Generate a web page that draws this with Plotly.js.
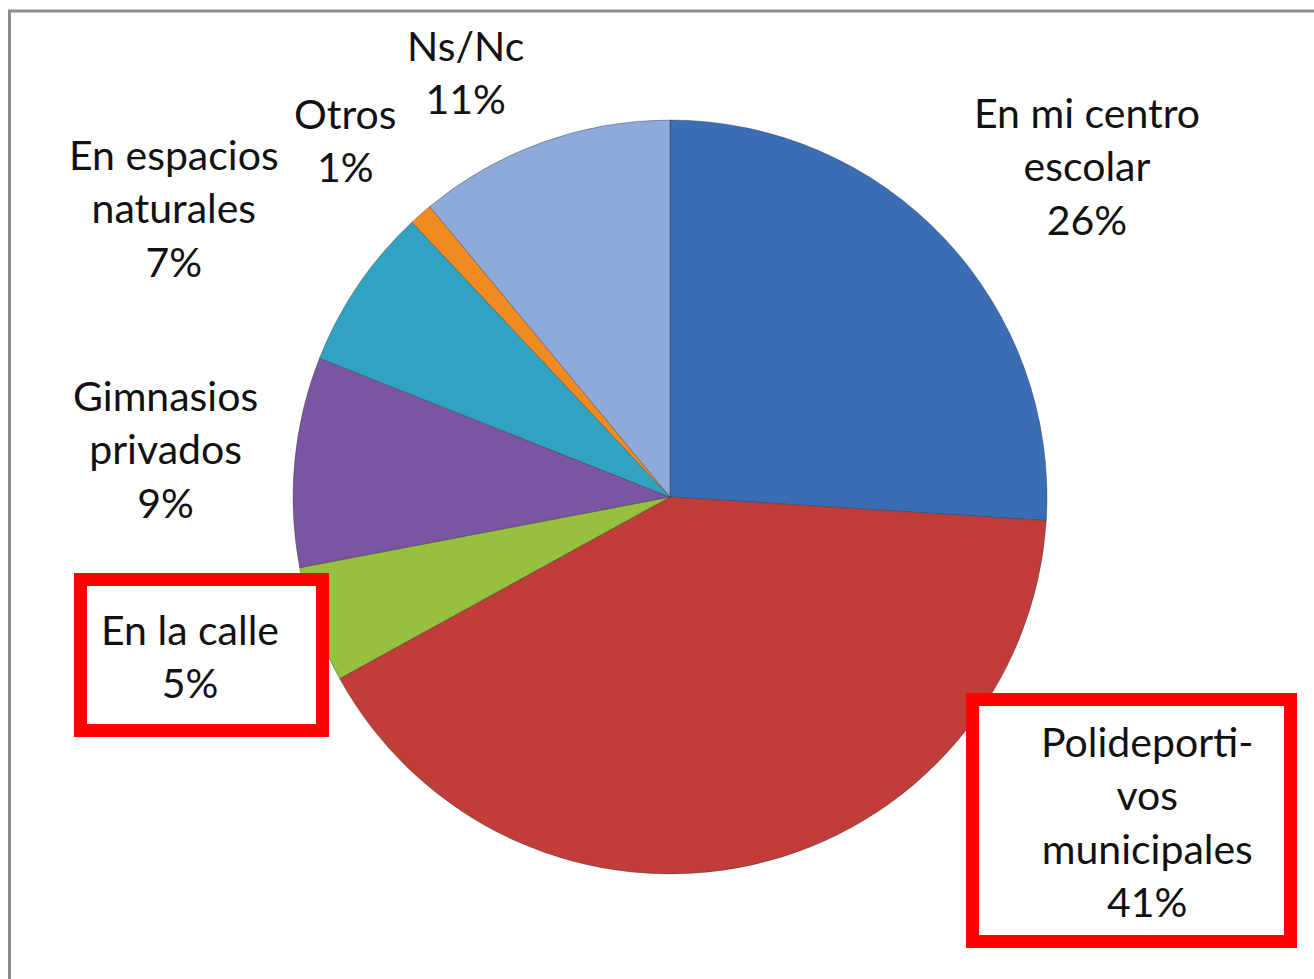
<!DOCTYPE html>
<html>
<head>
<meta charset="utf-8">
<script src="https://cdn.plot.ly/plotly-3.0.1.min.js"></script>
<style>
html,body{margin:0;padding:0;background:#fff;}
#chart{width:1314px;height:979px;}
</style>
</head>
<body>
<div id="chart"></div>
<script>
// Data (clockwise from 12 o'clock)
var categories = [
  "En mi centro<br>escolar",
  "Polideporti-<br>vos<br>municipales",
  "En la calle",
  "Gimnasios<br>privados",
  "En espacios<br>naturales",
  "Otros",
  "Ns/Nc"
];
var percentages = [26, 41, 5, 9, 7, 1, 11];
var sliceColors = ["#3a6db4", "#c13d39", "#96c03d", "#7b54a2", "#31a2c2", "#f28a22", "#8daada"];

// Label placement (pixel centres) — styling/layout only
var labelPos = [
  [1087, 166],
  [1147, 821],
  [190, 656],
  [165, 449],
  [174, 208],
  [345, 140],
  [465, 72]
];

var W = 1314, H = 979;
function px(x){ return x / W; }
function py(y){ return 1 - y / H; }

var trace = {
  type: "pie",
  labels: categories,
  values: percentages,
  sort: false,
  direction: "clockwise",
  rotation: 0,
  textinfo: "none",
  hoverinfo: "label+percent",
  marker: {colors: sliceColors, line: {color: "rgba(40,40,40,0.35)", width: 1}},
  domain: {x: [px(293), px(1047)], y: [py(874), py(120)]},
  showlegend: false
};

var annotations = categories.map(function(c, i){
  return {
    xref: "paper", yref: "paper",
    x: px(labelPos[i][0]), y: py(labelPos[i][1]),
    xanchor: "center", yanchor: "middle",
    align: "center",
    showarrow: false,
    text: c + "<br>" + percentages[i] + "%",
    font: {family: "Lato, 'Open Sans', sans-serif", size: 41, color: "#111111"}
  };
});

var shapes = [
  {type: "rect", xref: "paper", yref: "paper",
   x0: px(9.5), x1: px(1330), y0: py(995), y1: py(11),
   line: {color: "#8c8c8c", width: 3}, fillcolor: "rgba(0,0,0,0)", layer: "below"},
  {type: "rect", xref: "paper", yref: "paper", layer: "above",
   x0: px(80.5), x1: px(322.5), y0: py(730.5), y1: py(579.5),
   line: {color: "#ff0000", width: 13}, fillcolor: "#ffffff"},
  {type: "rect", xref: "paper", yref: "paper", layer: "above",
   x0: px(972.5), x1: px(1290.5), y0: py(941.5), y1: py(699.5),
   line: {color: "#ff0000", width: 13}, fillcolor: "#ffffff"}
];

var layout = {
  width: W, height: H,
  margin: {l: 0, r: 0, t: 0, b: 0, pad: 0},
  paper_bgcolor: "#ffffff",
  plot_bgcolor: "#ffffff",
  annotations: annotations,
  shapes: shapes,
  showlegend: false
};

Plotly.newPlot("chart", [trace], layout, {displayModeBar: false, staticPlot: true});
</script>
</body>
</html>
